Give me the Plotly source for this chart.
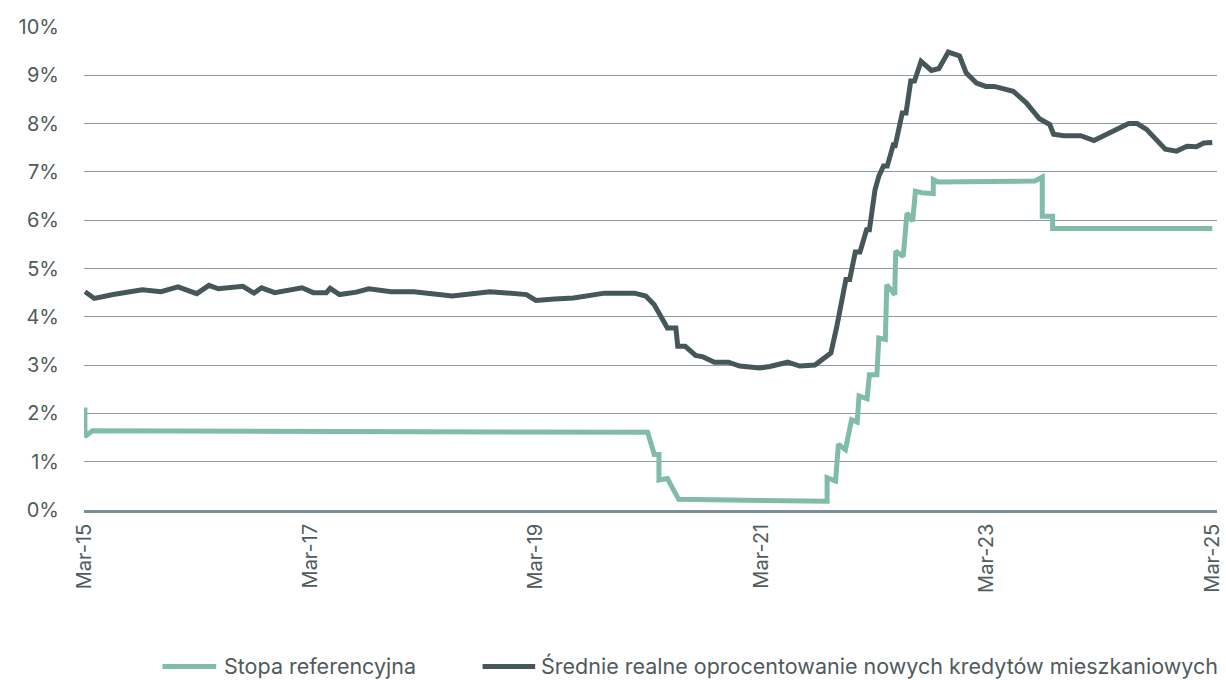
import plotly.graph_objects as go

# Months elapsed since March 2015 (0 = Mar-15, 120 = Mar-25)
ref_months = [0, 0, 0.8, 59.9, 60.6, 61.1, 61.1, 62.0, 63.2, 79.0, 79.0, 79.9, 80.2, 80.95,
              81.6, 82.2, 82.4, 83.25, 83.5, 84.3, 84.5, 85.2, 85.35, 86.2, 86.3, 87.1, 87.5,
              88.1, 88.4, 89.1, 90.3, 90.3, 90.8, 101.1, 101.9, 101.9, 103.0, 103.0, 120]
ref_rate = [2.12, 1.52, 1.64, 1.61, 1.15, 1.15, 0.62, 0.65, 0.22, 0.18, 0.67, 0.60, 1.36, 1.25,
            1.87, 1.82, 2.36, 2.30, 2.80, 2.80, 3.56, 3.53, 4.66, 4.46, 5.36, 5.25, 6.15,
            5.98, 6.60, 6.57, 6.55, 6.84, 6.79, 6.81, 6.89, 6.08, 6.08, 5.83, 5.83]

loan_months = [0, 1.0, 3.0, 6.1, 8.1, 9.9, 11.9, 13.2, 14.2, 16.8, 18.0, 18.8, 20.2, 23.1,
               24.3, 25.7, 26.1, 27.1, 28.9, 30.2, 32.6, 35.0, 39.1, 43.1, 47.0, 48.0, 50.0,
               52.0, 55.3, 58.5, 59.7, 60.6, 62.0, 62.9, 63.1, 63.9, 65.0, 65.8, 67.0, 68.5,
               69.7, 71.8, 72.9, 74.8, 76.1, 77.7, 79.4, 80.0, 81.0, 81.4, 82.0, 82.5, 83.2,
               83.5, 84.1, 84.5, 85.0, 85.4, 86.1, 86.2, 87.0, 87.4, 87.9, 88.3, 89.0, 90.1,
               90.9, 91.9, 93.1, 93.8, 94.9, 95.9, 96.8, 98.8, 100.2, 101.6, 102.7, 103.1,
               104.2, 106.0, 107.4, 109.5, 111.1, 112.0, 113.0, 115.0, 116.2, 117.3, 118.3,
               119.1, 120.0]
loan_rate = [4.52, 4.38, 4.46, 4.56, 4.52, 4.62, 4.48, 4.65, 4.58, 4.63, 4.49, 4.60, 4.50, 4.60,
             4.50, 4.50, 4.59, 4.46, 4.51, 4.58, 4.52, 4.52, 4.43, 4.52, 4.46, 4.34, 4.37,
             4.39, 4.49, 4.49, 4.43, 4.25, 3.77, 3.77, 3.39, 3.39, 3.20, 3.17, 3.06, 3.06,
             2.98, 2.94, 2.97, 3.06, 2.98, 3.00, 3.25, 3.77, 4.77, 4.77, 5.34, 5.34, 5.80,
             5.80, 6.63, 6.91, 7.12, 7.12, 7.60, 7.50, 8.22, 8.22, 8.88, 8.88, 9.29, 9.10,
             9.14, 9.48, 9.40, 9.05, 8.84, 8.77, 8.77, 8.67, 8.43, 8.10, 7.98, 7.78,
             7.75, 7.75, 7.65, 7.85, 8.00, 8.00, 7.88, 7.47, 7.43, 7.53, 7.52,
             7.60, 7.61]

x_tick_vals = [0, 24, 48, 72, 96, 120]
x_tick_text = ["Mar-15", "Mar-17", "Mar-19", "Mar-21", "Mar-23", "Mar-25"]
y_tick_vals = [0, 1, 2, 3, 4, 5, 6, 7, 8, 9, 10]
y_tick_text = ["0%", "1%", "2%", "3%", "4%", "5%", "6%", "7%", "8%", "9%", "10%"]

series_names = ["Stopa referencyjna",
                "Średnie realne oprocentowanie nowych kredytów mieszkaniowych"]

GREEN = "#80bca9"
DARK = "#455759"
GRID = "#8a9ca8"
AXIS = "#7b8f9b"
TEXT = "#4f5b5d"
FONT = "Inter, Roboto, sans-serif"

fig = go.Figure()
fig.add_trace(go.Scatter(x=ref_months, y=ref_rate, mode="lines", name=series_names[0],
                         line=dict(color=GREEN, width=5), showlegend=False))
fig.add_trace(go.Scatter(x=loan_months, y=loan_rate, mode="lines", name=series_names[1],
                         line=dict(color=DARK, width=5), showlegend=False))

# Manual legend (line samples + labels) below the plot
legend_y = -0.324
legend_items = [(0.0693, 0.1167, 0.1219, GREEN, series_names[0]),
                (0.3518, 0.3982, 0.4018, DARK, series_names[1])]
for x0, x1, xt, col, label in legend_items:
    fig.add_shape(type="line", xref="paper", yref="paper", x0=x0, x1=x1,
                  y0=legend_y, y1=legend_y, line=dict(color=col, width=5))
    fig.add_annotation(xref="paper", yref="paper", x=xt, y=legend_y, text=label,
                       showarrow=False, xanchor="left", yanchor="middle",
                       font=dict(family=FONT, size=21.5, color=TEXT))

fig.update_layout(
    width=1226, height=680,
    margin=dict(l=84, r=2, t=27, b=170),
    paper_bgcolor="white", plot_bgcolor="white",
    font=dict(family=FONT, color=TEXT, size=20),
    showlegend=False,
    xaxis=dict(range=[-0.1, 120.5], tickvals=x_tick_vals, ticktext=x_tick_text,
               tickangle=-90, showgrid=False, zeroline=False,
               showline=True, linecolor=AXIS, linewidth=2.5,
               ticks="", ticklabelstandoff=3, ticklabeloverflow="allow",
               tickfont=dict(family=FONT, size=20, color=TEXT)),
    yaxis=dict(range=[0, 10], tickvals=y_tick_vals, ticktext=y_tick_text,
               showgrid=True, gridcolor=GRID, gridwidth=1, zeroline=False,
               showline=False, ticks="", ticklabelstandoff=24,
               tickfont=dict(family=FONT, size=20, color=TEXT)),
)

fig.write_html("out.html", config={"displayModeBar": False},
               post_script="document.body.style.margin='0';document.body.style.overflow='hidden';")
